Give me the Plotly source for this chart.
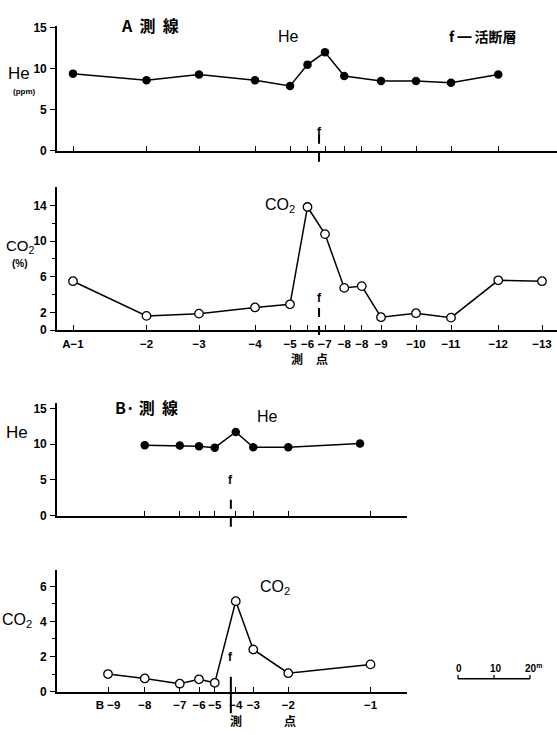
import plotly.graph_objects as go

W, H = 557, 735

# ---- data ----
# station distances along line A (m from A-1) and labels
a_pos = [0, 21, 36, 52, 62, 67, 72, 77.5, 82.5, 88, 98, 108, 121.5, 134]
a_labels = ["A−1", "−2", "−3", "−4", "−5", "−6", "−7", "−8", "−8", "−9", "−10", "−11", "−12", "−13"]
a_he_pos = [0, 21, 36, 52, 62, 67, 72, 77.5, 88, 98, 108, 121.5]
a_he = [9.4, 8.6, 9.3, 8.6, 7.9, 10.5, 12.0, 9.1, 8.5, 8.5, 8.3, 9.3]
a_co2 = [5.5, 1.6, 1.85, 2.55, 2.9, 13.85, 10.8, 4.75, 4.95, 1.45, 1.9, 1.4, 5.6, 5.5]
a_fault = 70.3

# line B (m from B-9)
b_pos = [0, 10.5, 20.5, 26, 30.5, 36.5, 41.5, 51.5, 75]
b_labels = ["B −9", "−8", "−7", "−6", "−5", "−4", "−3", "−2", "−1"]
b_he_pos = [10.5, 20.5, 26, 30.5, 36.5, 41.5, 51.5, 72]
b_he = [9.85, 9.8, 9.7, 9.5, 11.7, 9.55, 9.55, 10.1]
b_co2 = [1.0, 0.75, 0.45, 0.7, 0.5, 5.15, 2.4, 1.05, 1.55]
b_fault = 35.1

# ---- layout geometry (pixels) ----
def py(p):
    return 1 - p / H

def pxl(p):
    return p / W

A_range = [(57 - 73) / 3.5, (557 - 73) / 3.5]
B_range = [(57 - 108) / 3.5, (407 - 108) / 3.5]
A_dom = [pxl(57), 1.0]
B_dom = [pxl(57), pxl(407)]

def xpix(v, rng, dom):
    return dom[0] + (v - rng[0]) / (rng[1] - rng[0]) * (dom[1] - dom[0])

fig = go.Figure()

tickfont = dict(family="Liberation Sans", size=12, color="black", weight="bold")
xtickfont = dict(family="Liberation Sans", size=11.5, color="black", weight="bold")
cjk = "Noto Sans CJK JP"

def xaxis_cfg(dom, rng, vals, text, show):
    return dict(domain=dom, range=rng, showline=True, linecolor="black", linewidth=1.6,
                ticks="inside", ticklen=5, tickwidth=1.3, tickcolor="black",
                tickvals=vals, ticktext=text, showticklabels=show, showgrid=False,
                zeroline=False, tickfont=xtickfont, ticklabelstandoff=2, tickangle=0)

def yaxis_cfg(dom, rng, vals, anchor, minor=None):
    d = dict(domain=dom, range=rng, showline=True, linecolor="black", linewidth=1.6,
             ticks="outside", ticklen=5, tickwidth=1.3, tickcolor="black",
             tickvals=vals, showgrid=False, zeroline=False, tickfont=tickfont,
             anchor=anchor, ticklabelstandoff=1)
    if minor:
        d["minor"] = dict(tickvals=minor, ticks="outside", ticklen=3, tickcolor="black")
    return d

he_marker = dict(symbol="circle", size=8.5, color="black")
co2_marker = dict(symbol="circle", size=8.5, color="white", line=dict(color="black", width=1.3))
line = dict(color="black", width=1.5)

fig.add_trace(go.Scatter(x=a_he_pos, y=a_he, mode="lines+markers", marker=he_marker, line=line,
                         xaxis="x", yaxis="y", cliponaxis=False, showlegend=False))
fig.add_trace(go.Scatter(x=a_pos, y=a_co2, mode="lines+markers", marker=co2_marker, line=line,
                         xaxis="x2", yaxis="y2", cliponaxis=False, showlegend=False))
fig.add_trace(go.Scatter(x=b_he_pos, y=b_he, mode="lines+markers", marker=he_marker, line=line,
                         xaxis="x3", yaxis="y3", cliponaxis=False, showlegend=False))
fig.add_trace(go.Scatter(x=b_pos, y=b_co2, mode="lines+markers", marker=co2_marker, line=line,
                         xaxis="x4", yaxis="y4", cliponaxis=False, showlegend=False))

fig.update_layout(
    width=W, height=H, margin=dict(l=0, r=0, t=0, b=0),
    paper_bgcolor="white", plot_bgcolor="white",
    xaxis=dict(**xaxis_cfg(A_dom, A_range, a_pos[:-1], a_labels[:-1], False), anchor="y"),
    yaxis=yaxis_cfg([py(148), py(21.5)], [0, 15.2], [0, 5, 10, 15], "x"),
    xaxis2=dict(**xaxis_cfg(A_dom, A_range, a_pos, a_labels, True), anchor="y2"),
    yaxis2=yaxis_cfg([py(330.5), py(185)], [0, 16.1], [0, 2, 6, 10, 14], "x2", minor=[4, 8, 12]),
    xaxis3=dict(**xaxis_cfg(B_dom, B_range, b_pos[1:], b_labels[1:], False), anchor="y3"),
    yaxis3=yaxis_cfg([py(519), py(405)], [0, 15.7], [0, 5, 10, 15], "x3"),
    xaxis4=dict(**xaxis_cfg(B_dom, B_range, b_pos, b_labels, True), anchor="y4"),
    yaxis4=yaxis_cfg([py(698), py(574)], [0, 6.95], [0, 2, 4, 6], "x4", minor=[1, 3, 5]),
)

def txt(x, y, s, size, weight="normal", family="Liberation Sans", xanchor="center"):
    fig.add_annotation(x=pxl(x), y=py(y), xref="paper", yref="paper", text=s, showarrow=False,
                       xanchor=xanchor, yanchor="middle",
                       font=dict(family=family, size=size, color="black", weight=weight))

# titles and labels
txt(150, 20, "A  測  線", 16, "bold", cjk)
txt(289, 32, "He", 16)
txt(483, 32, "f ━ 活断層", 14, "bold", cjk)
txt(19, 70, "He", 17)
txt(24, 88, "(ppm)", 8, "bold")
txt(20, 246, "CO<sub>2</sub>", 15)
txt(20, 263, "(%)", 10, "bold")
txt(280, 204, "CO<sub>2</sub>", 16)
txt(297, 359, "測", 12, "bold", cjk)
txt(322, 359, "点", 12, "bold", cjk)

txt(146, 409, "B· 測  線", 16, "bold", cjk)
txt(267, 418, "He", 16)
txt(17, 435, "He", 17)
txt(17, 626, "CO<sub>2</sub>", 16)
txt(275, 592, "CO<sub>2</sub>", 16)
txt(236, 727, "測", 12, "bold", cjk)
txt(290, 727, "点", 12, "bold", cjk)

# fault markers
fa = xpix(a_fault, A_range, A_dom)
fb = xpix(b_fault, B_range, B_dom)
for fx, fy in ((fa, 120), (fa, 298), (fb, 492), (fb, 672)):
    fig.add_annotation(x=fx, y=py(fy), xref="paper", yref="paper", text="f", showarrow=False,
                       font=dict(family="Liberation Sans", size=12, weight="bold", color="black"))

def vline(x, y0, y1, dash="dash", width=2):
    fig.add_shape(type="line", xref="paper", yref="paper", x0=x, x1=x, y0=py(y0), y1=py(y1),
                  line=dict(color="black", width=width, dash=dash))

vline(fa, 132, 160, "dash")
vline(fa, 308, 346, "dash")
vline(fb, 503, 532, "dash")
vline(fb, 683, 720, "solid")

# scale bar
sb0, sb1, sby = 458, 530, 685
fig.add_shape(type="line", xref="paper", yref="paper", x0=pxl(sb0), x1=pxl(sb1), y0=py(sby), y1=py(sby),
              line=dict(color="black", width=1.6))
for sx in (sb0, (sb0 + sb1) / 2, sb1):
    fig.add_shape(type="line", xref="paper", yref="paper", x0=pxl(sx), x1=pxl(sx), y0=py(sby), y1=py(sby - 4),
                  line=dict(color="black", width=1.3))
txt(459, 675, "0", 10, "bold")
txt(496, 675, "10", 10, "bold")
txt(533, 674, "20<sup>m</sup>", 10, "bold")

fig.write_html("out.html", config={"displayModeBar": False},
               post_script="document.body.style.margin='0';document.body.style.overflow='hidden';")
